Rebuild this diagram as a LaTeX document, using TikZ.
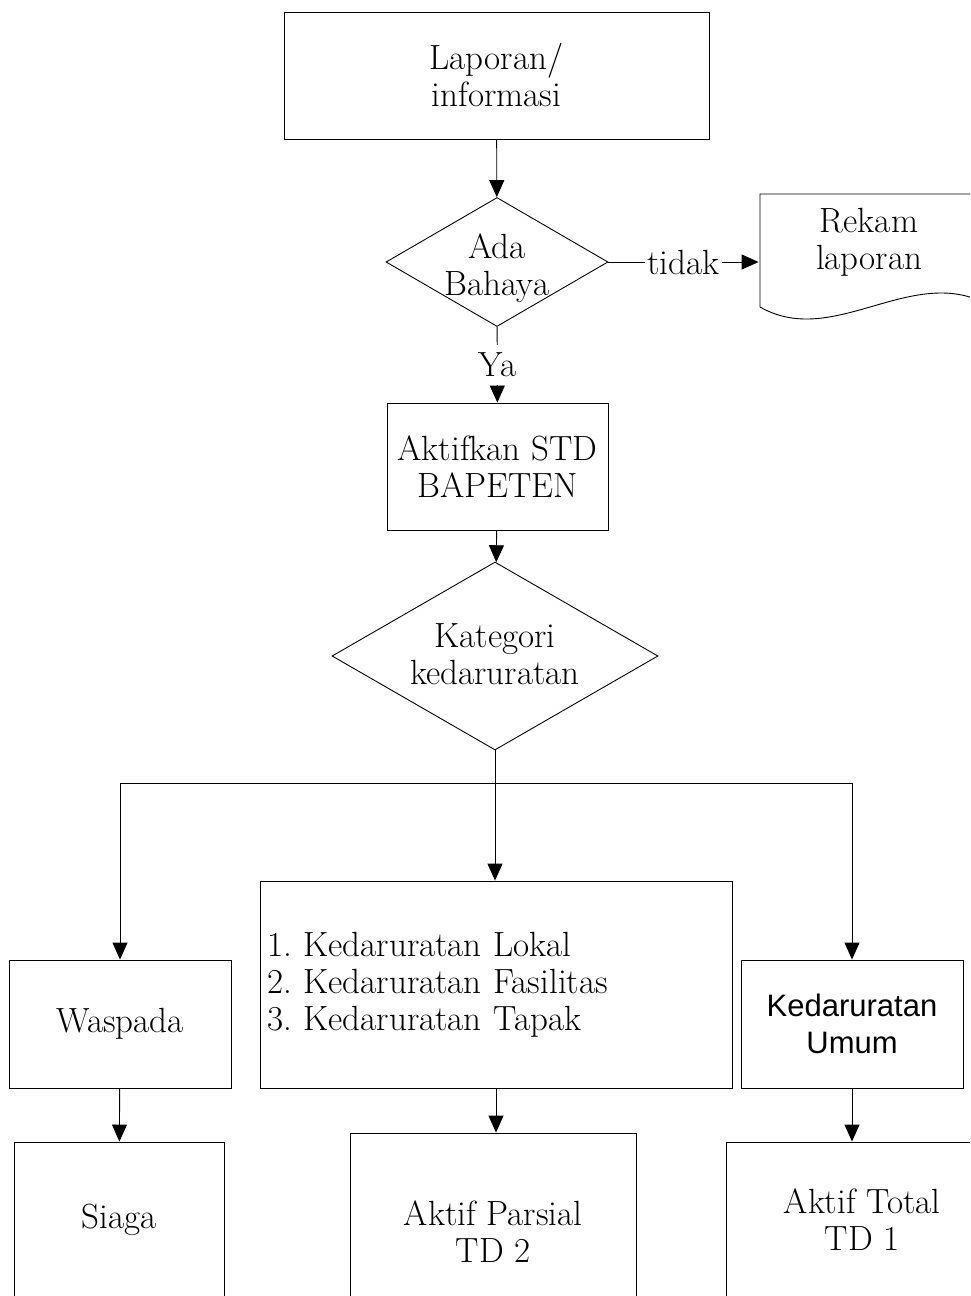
\documentclass[tikz,border=0pt]{standalone}
\usepackage{fontspec}
\newfontfamily\umumfont{Liberation Sans}
\usetikzlibrary{shapes.geometric, arrows.meta}
\usetikzlibrary{positioning}
\tikzset{
box/.style={
	rectangle,
	draw=black,
	line width=0.45pt,
	text centered,
	align=center,
	inner sep=2pt,
	font=\fontsize{17.5}{18.5}\selectfont
},
decision/.style={
	diamond,
	draw=black,
	line width=0.45pt,
	inner sep=0pt
},
tekst/.style={
	align=center,
	inner sep=0pt,
	font=\fontsize{17.5}{18.5}\selectfont
},
arrow/.style={
	-{Triangle[length=8.5pt,width=7.5pt]},
	draw=black,
	line width=0.45pt
},
line/.style={
	draw=black,
	line width=0.45pt
}
}

\begin{document}
\frenchspacing
\begin{tikzpicture}[x=0.5pt, y=-0.5pt]
\clip (0,0) rectangle (970,1296);
% ===== Main column =====
\node (lapor)    [box, minimum width=212.5pt, minimum height=63.5pt] at (496.5, 75.5) {Laporan/\\informasi};
\node (bahaya)   [decision, minimum width=111pt, minimum height=64.5pt] at (497, 262) {};
\node (bahayatx) [tekst]                                     at (497, 268)  {Ada\\Bahaya};
\node (aktif)    [box, minimum width=110.5pt, minimum height=63.5pt] at (497.5, 466.5) {Aktifkan STD\\BAPETEN};
\node (kategori) [decision, minimum width=163pt, minimum height=94pt] at (495, 656) {};
\node (katetx)   [tekst]                                     at (495, 654)  {Kategori\\kedaruratan};
\coordinate (cabang) at (495, 783);
% ===== Side node: document shape =====
\node (rekam)    [tekst, minimum width=110pt]                at (869, 242)  {Rekam\\laporan};
\draw [line] (760,307) -- (760,194) -- (992,194) -- (992,307)
      .. controls (915,260) and (835,350) .. (760,307);
% ===== Categories =====
\node (waspada)  [box, minimum width=111pt, minimum height=64pt] at (120, 1024) {Waspada};
\node (lokal)    [box, align=left, text width=229pt, minimum height=103.5pt, inner sep=3.5pt]
                 at (496, 984.5) {1. Kedaruratan Lokal\\2. Kedaruratan Fasilitas\\3. Kedaruratan Tapak};
\node (umum)     [box, font=\umumfont\fontsize{15.5}{18.5}\selectfont, minimum width=111pt, minimum height=64pt]
                 at (852, 1024) {Kedaruratan\\Umum};
% ===== Responses (cut off at the bottom) =====
\node (siaga)    [box, minimum width=105pt, minimum height=78pt] at (119, 1220) {Siaga};
\node (parsial)  [box, minimum width=143pt, minimum height=99pt] at (493, 1232) {Aktif Parsial\\TD 2};
\node (total)    [box, minimum width=136pt, minimum height=78pt] at (862, 1220) {Aktif Total\\TD 1};
% ===== Arrows =====
\draw [arrow] (lapor) -- (bahaya);
\draw [arrow] (bahaya.east) -- node[tekst, fill=white, inner xsep=1pt, inner ysep=2pt] {tidak} (bahaya.east -| rekam.west);
\draw [arrow] (bahaya) -- node[tekst, fill=white, inner ysep=4pt] {Ya} (aktif);
\draw [arrow] (aktif) -- (kategori);
\draw [line]  (kategori) -- (cabang);
\draw [arrow] (cabang) -| (waspada);
\draw [arrow] (cabang) -- (lokal.north -| cabang);
\draw [arrow] (cabang) -| (umum);
\draw [arrow] (waspada) -- (siaga);
\draw [arrow] (lokal.south) -- (lokal.south |- parsial.north);
\draw [arrow] (umum.south) -- (umum.south |- total.north);
\end{tikzpicture}
\end{document}
